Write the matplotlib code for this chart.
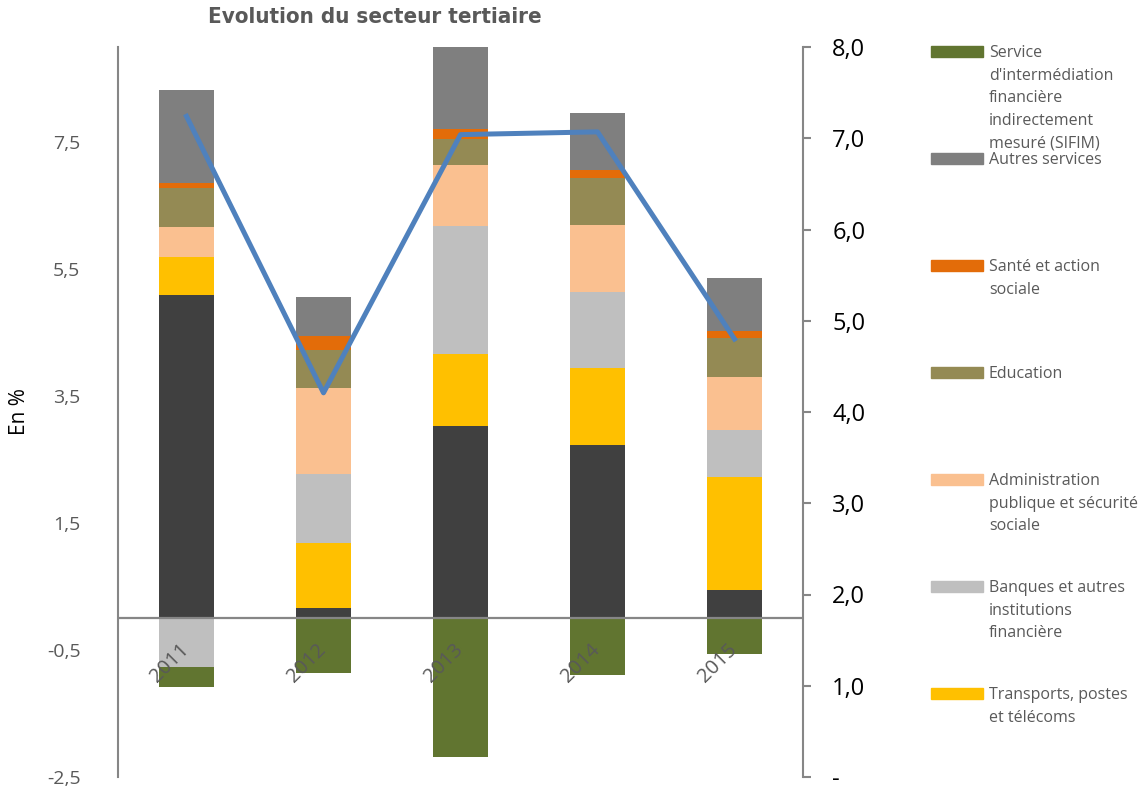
import numpy as np
import matplotlib.pyplot as plt
from matplotlib.patches import Rectangle
from matplotlib.ticker import FuncFormatter

plt.rcParams['font.family'] = ['Open Sans', 'DejaVu Sans']

# ---- data ----
years = ["2011", "2012", "2013", "2014", "2015"]

# stacked contributions (left axis, en %)
non_legende = [5.09, 0.17, 3.03, 2.73, 0.44]      # dark series, cut from the legend
transports = [0.60, 1.02, 1.13, 1.21, 1.78]
banques = [-0.77, 1.09, 2.02, 1.20, 0.74]
administration = [0.47, 1.35, 0.96, 1.06, 0.84]
education = [0.62, 0.60, 0.41, 0.74, 0.62]
sante = [0.08, 0.21, 0.16, 0.12, 0.10]
autres = [1.46, 0.62, 1.40, 0.90, 0.84]
sifim = [-0.32, -0.86, -2.18, -0.89, -0.56]

# growth line (right axis)
croissance = [7.24, 4.21, 7.04, 7.07, 4.80]

left_ticks = [-2.5, -0.5, 1.5, 3.5, 5.5, 7.5]
right_ticks = [0, 1, 2, 3, 4, 5, 6, 7, 8]

series = [
    (None, non_legende, "#404040"),
    ("Transports, postes\net télécoms", transports, "#FFC000"),
    ("Banques et autres\ninstitutions\nfinancière", banques, "#BFBFBF"),
    ("Administration\npublique et sécurité\nsociale", administration, "#FAC090"),
    ("Education", education, "#948A54"),
    ("Santé et action\nsociale", sante, "#E36C09"),
    ("Autres services", autres, "#7F7F7F"),
    ("Service\nd'intermédiation\nfinancière\nindirectement\nmesuré (SIFIM)", sifim, "#617530"),
]

W, H = 1140, 793
fig = plt.figure(figsize=(W / 100, H / 100), dpi=100)
ax = fig.add_axes([118 / W, 1 - 777 / H, (803 - 118) / W, (777 - 47) / H])
ax2 = ax.twinx()

x = np.arange(len(years))
pos = np.zeros(len(years))
neg = np.zeros(len(years))
for name, vals, col in series:
    v = np.array(vals)
    bottom = np.where(v >= 0, pos, neg)
    ax.bar(x, v, 0.4, bottom=bottom, color=col, edgecolor="none", zorder=2)
    pos = pos + np.where(v >= 0, v, 0)
    neg = neg + np.where(v < 0, v, 0)

ax.axhline(0, color="#868686", lw=1.6, zorder=3)
ax.set_xlim(-0.5, 4.5)
ax.set_ylim(-2.5, 9.0)
ax.set_xticks([])
ax.set_yticks(left_ticks)
ax.set_yticklabels([f"{t:.1f}".replace(".", ",") for t in left_ticks])
ax.tick_params(axis="y", length=0, pad=27, labelsize=14, labelcolor="#595959")
for s in ["top", "bottom", "right"]:
    ax.spines[s].set_visible(False)
ax.spines["left"].set_color("#868686")
ax.spines["left"].set_linewidth(1.5)
ax.set_ylabel("En %", fontsize=15, labelpad=12)

for i, yr in enumerate(years):
    ax.annotate(yr, xy=(i, 0), xytext=(-12, -32), textcoords="offset points",
                ha="center", va="center", rotation=45, fontsize=14.5, color="#595959")

ax2.plot(x, croissance, color="#4F81BD", lw=3.6, zorder=5)
ax2.set_ylim(0, 8)
ax2.set_yticks(right_ticks)
ax2.yaxis.set_major_formatter(FuncFormatter(
    lambda v, p: "-" if v == 0 else f"{v:.1f}".replace(".", ",")))
ax2.tick_params(axis="y", length=6, width=1.5, color="#868686", pad=15,
                labelsize=17, labelcolor="black")
for s in ["top", "bottom", "left"]:
    ax2.spines[s].set_visible(False)
ax2.spines["right"].set_color("#868686")
ax2.spines["right"].set_linewidth(1.5)

fig.text(375 / W, 1 - 17 / H, "Evolution du secteur tertiaire", ha="center", va="center",
         fontsize=16, fontweight="bold", fontstretch="condensed", color="#595959",
         family=["DejaVu Sans"])

# legend drawn by hand, order as in the reference
legend_y = [51, 158, 265, 372, 479, 586, 693]
legend_items = [s for s in series[::-1] if s[0] is not None]
for (name, vals, col), yc in zip(legend_items, legend_y):
    fig.patches.append(Rectangle((931 / W, 1 - (yc + 5.5) / H), 52 / W, 11 / H,
                                 transform=fig.transFigure, color=col))
    fig.text(989 / W, 1 - (yc - 6) / H, name, ha="left", va="top", fontsize=11.5,
             color="#595959", linespacing=1.55)

fig.savefig("out.png", dpi=100)
